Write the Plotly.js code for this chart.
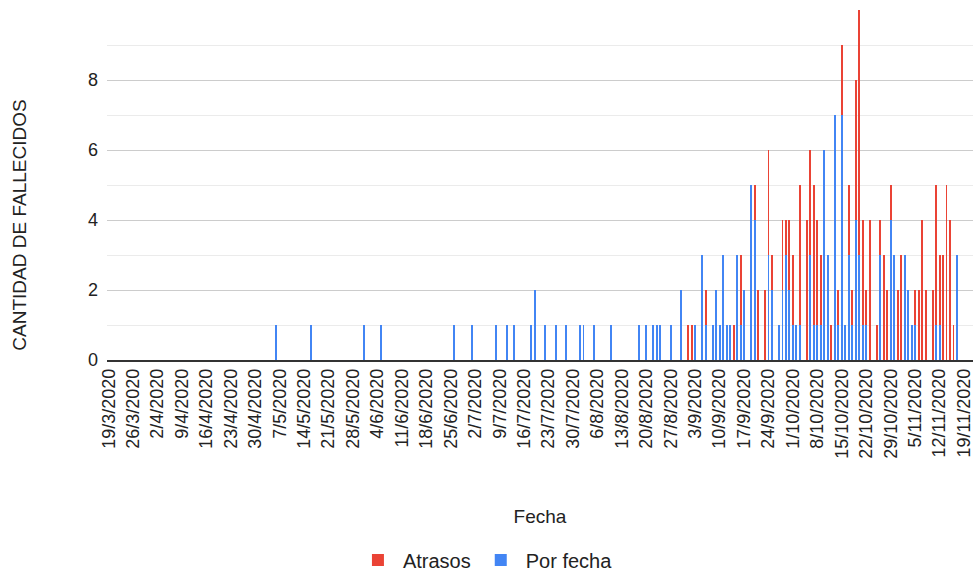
<!DOCTYPE html>
<html><head><meta charset="utf-8">
<script src="https://cdn.plot.ly/plotly-3.0.1.min.js"></script>
<style>html,body{margin:0;padding:0;background:#fff}#chart{width:973px;height:574px}</style>
</head><body><div id="chart"></div>
<script>
// ---- data ----
const fechas = [
 '2020-05-06','2020-05-16','2020-05-31','2020-06-05','2020-06-26','2020-07-01','2020-07-08','2020-07-11',
 '2020-07-13','2020-07-18','2020-07-19','2020-07-22','2020-07-25','2020-07-28','2020-08-01','2020-08-02',
 '2020-08-05','2020-08-10','2020-08-18','2020-08-20','2020-08-22','2020-08-23','2020-08-24','2020-08-27',
 '2020-08-30','2020-09-01','2020-09-02','2020-09-03','2020-09-05','2020-09-06','2020-09-08','2020-09-09',
 '2020-09-10','2020-09-11','2020-09-12','2020-09-13','2020-09-14','2020-09-15','2020-09-16','2020-09-17',
 '2020-09-19','2020-09-20','2020-09-21','2020-09-23','2020-09-24','2020-09-25','2020-09-27','2020-09-28',
 '2020-09-29','2020-09-30','2020-10-01','2020-10-02','2020-10-03','2020-10-05','2020-10-06','2020-10-07',
 '2020-10-08','2020-10-09','2020-10-10','2020-10-11','2020-10-12','2020-10-13','2020-10-14','2020-10-15',
 '2020-10-16','2020-10-17','2020-10-18','2020-10-19','2020-10-20','2020-10-21','2020-10-22','2020-10-23',
 '2020-10-25','2020-10-26','2020-10-27','2020-10-28','2020-10-29','2020-10-30','2020-10-31','2020-11-01',
 '2020-11-02','2020-11-03','2020-11-04','2020-11-05','2020-11-06','2020-11-07','2020-11-08','2020-11-10',
 '2020-11-11','2020-11-12','2020-11-13','2020-11-14','2020-11-15','2020-11-16','2020-11-17'
];
const porFecha = [
 1,1,1,1,1,1,1,1,
 1,1,2,1,1,1,1,1,
 1,1,1,1,1,1,1,1,
 2,0,0,1,3,1,1,2,
 1,3,1,1,0,3,1,2,
 5,4,0,0,3,2,1,2,
 3,2,1,1,1,0,3,1,
 1,1,6,3,0,7,1,7,
 1,3,1,4,3,1,1,0,
 0,3,0,0,4,3,0,0,
 3,2,1,1,0,0,0,0,
 1,1,0,0,0,0,3
];
const atrasos = [
 0,0,0,0,0,0,0,0,
 0,0,0,0,0,0,0,0,
 0,0,0,0,0,0,0,0,
 0,1,1,0,0,1,0,0,
 0,0,0,0,1,0,2,0,
 0,1,2,2,3,1,0,2,
 1,2,2,0,4,4,3,4,
 3,2,0,0,1,0,1,2,
 0,2,1,4,7,3,1,4,
 1,1,3,2,1,0,2,3,
 0,0,0,1,2,4,2,2,
 4,2,3,5,4,1,0
];
const etiquetasX = ['19/3/2020','26/3/2020','2/4/2020','9/4/2020','16/4/2020','23/4/2020','30/4/2020',
 '7/5/2020','14/5/2020','21/5/2020','28/5/2020','4/6/2020','11/6/2020','18/6/2020','25/6/2020',
 '2/7/2020','9/7/2020','16/7/2020','23/7/2020','30/7/2020','6/8/2020','13/8/2020','20/8/2020',
 '27/8/2020','3/9/2020','10/9/2020','17/9/2020','24/9/2020','1/10/2020','8/10/2020','15/10/2020',
 '22/10/2020','29/10/2020','5/11/2020','12/11/2020','19/11/2020'];
const ticksY = [0,2,4,6,8];
const ticksYMenores = [1,3,5,7,9];

// ---- build ----
const pad = n => String(n).padStart(2,'0');
const tickFechas = etiquetasX.map(s => { const [d,m,y] = s.split('/'); return y+'-'+pad(m)+'-'+pad(d); });
const FONT = '"Liberation Sans", Arial, Helvetica, sans-serif';

// plot box: top at 10px, value 0 at 360px (35 px per unit); the y domain is extended
// below zero so that the y-axis title is centred where the reference puts it.
const TOP = 10, ZERO_Y = 360, PX_PER_UNIT = 35, BOTTOM = 440, H = 574;
const yMin = -(BOTTOM - ZERO_Y) / PX_PER_UNIT;
const plotH = BOTTOM - TOP;

const traces = [
 {type:'bar', name:'Por fecha', x:fechas, y:porFecha, marker:{color:'#4285f4'}, legendrank:2},
 {type:'bar', name:'Atrasos', x:fechas, y:atrasos, marker:{color:'#ea4335'}, legendrank:1}
];

const layout = {
 width:973, height:H,
 margin:{l:107, r:0, t:TOP, b:H - BOTTOM, pad:0},
 paper_bgcolor:'#ffffff', plot_bgcolor:'rgba(0,0,0,0)',
 barmode:'stack', bargap:0.45,
 font:{family:FONT, color:'#222222'},
 xaxis:{type:'date', range:['2020-03-18 12:00','2020-11-21 14:00'], tickmode:'array', tickvals:tickFechas, ticktext:etiquetasX,
   tickangle:-90, tickfont:{size:18, color:'#222222'}, showgrid:false, showline:true, linecolor:'#333333', linewidth:1.5,
   ticks:'', zeroline:false, automargin:false, fixedrange:true, ticklabeloverflow:'allow',
   anchor:'free', position:(BOTTOM - ZERO_Y) / plotH,
   title:{text:'Fecha', font:{size:19, color:'#222222'}, standoff:52}},
 yaxis:{range:[yMin,10], tickmode:'array', tickvals:ticksY, tickfont:{size:18, color:'#222222'}, showgrid:true,
   gridcolor:'#cccccc', gridwidth:1, zeroline:false, ticks:'', automargin:false, fixedrange:true, ticklabelstandoff:8,
   minor:{tickmode:'array', tickvals:ticksYMenores, showgrid:true, gridcolor:'#ebebeb', gridwidth:1, ticks:''},
   title:{text:'CANTIDAD DE FALLECIDOS', font:{size:19, color:'#222222'}, standoff:56}},
 showlegend:true,
 legend:{orientation:'h', traceorder:'normal', xref:'paper', x:0.437, xanchor:'center',
   yref:'container', y:(H - 560) / H, yanchor:'middle',
   font:{size:20, color:'#222222'}, bgcolor:'rgba(0,0,0,0)', itemwidth:40},
};

Plotly.newPlot('chart', traces, layout, {displayModeBar:false, staticPlot:true});
</script>
</body></html>
